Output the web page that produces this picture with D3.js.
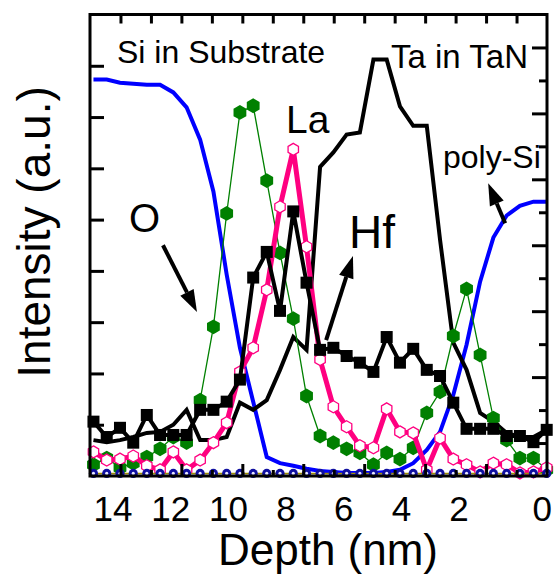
<!DOCTYPE html>
<html>
<head>
<meta charset="utf-8">
<script src="https://cdn.jsdelivr.net/npm/d3@7"></script>
<style>
  html, body { margin: 0; padding: 0; background: #fff; }
  svg { display: block; }
  text { font-family: "Liberation Sans", Arial, Helvetica, sans-serif; fill: #000; }
</style>
</head>
<body>
<svg id="chart" width="556" height="576"></svg>
<script>
// ---- data ----
const depth = [14.68, 14.22, 13.76, 13.30, 12.83, 12.37, 11.91, 11.45, 10.98, 10.52,
               10.06, 9.60, 9.14, 8.67, 8.21, 7.75, 7.29, 6.82, 6.36, 5.90,
               5.44, 4.97, 4.51, 4.05, 3.59, 3.12, 2.66, 2.20, 1.74, 1.27,
               0.81, 0.35, -0.11, -0.58, -1.04];
const siSubstrate = [7.73, 7.73, 7.67, 7.65, 7.63, 7.63, 7.48, 7.19, 6.56, 5.55,
                     3.93, 2.50, 1.45, 0.37, 0.25, 0.20, 0.14, 0.10, 0.08, 0.06,
                     0.06, 0.06, 0.08, 0.12, 0.25, 0.51, 0.86, 1.58, 2.56, 3.79,
                     4.65, 5.08, 5.27, 5.35, 5.35];
const taTaN = [0.70, 0.66, 0.70, 0.76, 0.84, 0.86, 1.00, 1.29, 0.70, 0.70,
               0.76, 1.43, 1.29, 1.48, 2.07, 2.71, 2.46, 6.03, 6.31, 6.66,
               6.70, 8.12, 8.12, 7.21, 6.83, 6.83, 4.61, 2.60, 2.07, 1.23,
               1.06, 0.84, 0.76, 0.76, 0.90];
const hf = [1.06, 0.76, 0.94, 0.65, 1.19, 0.80, 0.80, 0.80, 1.29, 1.29,
            1.45, 1.88, 3.87, 4.37, 3.22, 5.16, 3.77, 2.46, 2.50, 2.34,
            2.21, 2.03, 2.71, 2.21, 2.48, 2.07, 1.95, 1.43, 0.92, 0.92,
            0.92, 0.78, 0.78, 0.66, 0.90];
const la = [0.47, 0.31, 0.33, 0.39, 0.20, 0.12, 0.47, 0.12, 0.31, 0.65,
            1.04, 2.03, 2.50, 3.63, 5.25, 6.37, 4.47, 2.27, 1.35, 0.96,
            0.59, 0.55, 1.31, 0.86, 0.84, 0.12, 0.74, 0.33, 0.22, 0.08,
            0.25, 0.22, 0.06, 0.08, 0.16];
const oxygen = [0.22, 0.35, 0.16, 0.25, 0.37, 0.53, 0.76, 0.65, 1.48, 2.91,
                5.12, 7.09, 7.22, 5.76, 4.35, 3.07, 1.56, 0.78, 0.65, 0.53,
                0.45, 0.22, 0.45, 0.33, 0.55, 1.23, 1.64, 2.73, 3.65, 2.36,
                1.13, 0.70, 0.35, 0.35, 0.12];
const baseSeries = [0.05, 0.05, 0.05, 0.05, 0.05, 0.05, 0.05, 0.05, 0.05, 0.05,
                    0.05, 0.05, 0.05, 0.05, 0.05, 0.05, 0.05, 0.05, 0.05, 0.05,
                    0.05, 0.05, 0.05, 0.05, 0.05, 0.05, 0.05, 0.05, 0.05, 0.05,
                    0.05, 0.05, 0.05, 0.05, 0.05];
const xTickLabels = [14, 12, 10, 8, 6, 4, 2, 0];
const yLeftTicks = [1, 2, 3, 4, 5, 6, 7, 8];
// annotation arrows in data coordinates: [fromDepth, fromI, toDepth, toI]
const arrowO = [12.27, 4.50, 11.09, 3.20];
const arrowHf = [6.61, 2.65, 5.68, 4.29];
const arrowPoly = [0.40, 4.93, 0.99, 5.71];

// ---- layout ----
const L = 90, R = 547, T = 14.5, B = 476;
const svg = d3.select("#chart");
const x = d3.scaleLinear().domain([14.80, -1.05]).range([L, R]);
const y = d3.scaleLinear().domain([0, 9]).range([B, T]);
// frame tick divisions (15 equal divisions along the x frame, 14 on the right side)
const frameX = d3.scaleLinear().domain([0, 15]).range([L, R]);
const frameYR = d3.scaleLinear().domain([0, 14]).range([B, T]);

const rows = depth.map((d, i) => ({d, si: siSubstrate[i], ta: taTaN[i], hf: hf[i], la: la[i], o: oxygen[i], b: baseSeries[i]}));

function hexPath(r) {
  const pts = d3.range(6).map(k => {
    const a = (Math.PI / 3) * k - Math.PI / 2;
    return [r * Math.cos(a), r * Math.sin(a)];
  });
  return "M" + pts.map(p => p.join(",")).join("L") + "Z";
}

const line = key => d3.line().x(r => x(r.d)).y(r => y(r[key]));

// Si in substrate / poly-Si (blue)
svg.append("path").datum(rows).attr("d", line("si"))
  .attr("fill", "none").attr("stroke", "#0000ff").attr("stroke-width", 4);
// Ta (black)
svg.append("path").datum(rows).attr("d", line("ta"))
  .attr("fill", "none").attr("stroke", "#000").attr("stroke-width", 4).attr("stroke-linejoin", "miter");
// O (green)
svg.append("path").datum(rows).attr("d", line("o"))
  .attr("fill", "none").attr("stroke", "#008000").attr("stroke-width", 1.3);
svg.append("g").selectAll("path").data(rows).join("path")
  .attr("d", hexPath(7.4))
  .attr("transform", r => `translate(${x(r.d)},${y(r.o)})`)
  .attr("fill", "#008000");
// La (pink)
svg.append("path").datum(rows).attr("d", line("la"))
  .attr("fill", "none").attr("stroke", "#ff0080").attr("stroke-width", 5);
svg.append("g").selectAll("path").data(rows).join("path")
  .attr("d", hexPath(6))
  .attr("transform", r => `translate(${x(r.d)},${y(r.la)})`)
  .attr("fill", "#fff").attr("stroke", "#ff0080").attr("stroke-width", 1.3);
// Hf (black squares)
svg.append("path").datum(rows).attr("d", line("hf"))
  .attr("fill", "none").attr("stroke", "#000").attr("stroke-width", 4);
svg.append("g").selectAll("rect").data(rows).join("rect")
  .attr("x", r => x(r.d) - 6).attr("y", r => y(r.hf) - 6)
  .attr("width", 12).attr("height", 12).attr("fill", "#000");
// baseline series
svg.append("path").datum(rows).attr("d", line("b"))
  .attr("fill", "none").attr("stroke", "#a09000").attr("stroke-width", 1.5);
const bg = svg.append("g");
bg.selectAll("circle.o").data(rows).join("circle").attr("class", "o")
  .attr("cx", r => x(r.d)).attr("cy", r => y(r.b)).attr("r", 4.6).attr("fill", "#1010a0");
bg.selectAll("circle.i").data(rows).join("circle").attr("class", "i")
  .attr("cx", r => x(r.d)).attr("cy", r => y(r.b)).attr("r", 1.6).attr("fill", "#e8e8ff");

// ---- frame & ticks ----
function styleAxis(g) {
  g.select(".domain").remove();
  g.selectAll(".tick line").attr("stroke", "#000").attr("stroke-width", 3);
  g.selectAll(".tick text").remove();
}
const oddK = d3.range(1, 15, 2), evenK = d3.range(2, 15, 2);
svg.append("g").attr("transform", `translate(0,${B})`)
  .call(d3.axisBottom(frameX).tickValues(oddK).tickSize(-12).tickFormat("")).call(styleAxis);
svg.append("g").attr("transform", `translate(0,${B})`)
  .call(d3.axisBottom(frameX).tickValues(evenK).tickSize(-6).tickFormat("")).call(styleAxis);
svg.append("g").attr("transform", `translate(0,${T})`)
  .call(d3.axisTop(frameX).tickValues(d3.range(1, 15)).tickSize(-9).tickFormat("")).call(styleAxis);
svg.append("g").attr("transform", `translate(${L},0)`)
  .call(d3.axisLeft(y).tickValues(yLeftTicks).tickSize(-14).tickFormat("")).call(styleAxis);
svg.append("g").attr("transform", `translate(${R},0)`)
  .call(d3.axisRight(frameYR).tickValues(d3.range(1, 14, 2)).tickSize(-15).tickFormat("")).call(styleAxis);
svg.append("g").attr("transform", `translate(${R},0)`)
  .call(d3.axisRight(frameYR).tickValues(d3.range(2, 14, 2)).tickSize(-8).tickFormat("")).call(styleAxis);

svg.append("rect").attr("x", L).attr("y", T).attr("width", R - L).attr("height", B - T)
  .attr("fill", "none").attr("stroke", "#000").attr("stroke-width", 3);

// tick labels (the last label sits flush with the right frame)
svg.append("g").selectAll("text").data(xTickLabels).join("text")
  .attr("x", (v, i) => i === xTickLabels.length - 1 ? R + 5 : x(v))
  .attr("y", 521)
  .attr("text-anchor", (v, i) => i === xTickLabels.length - 1 ? "end" : "middle")
  .attr("font-size", 35).text(v => v);

// axis titles
svg.append("text").attr("x", 328).attr("y", 565).attr("text-anchor", "middle")
  .attr("font-size", 44).text("Depth (nm)");
svg.append("text").attr("transform", "translate(50,232) rotate(-90)").attr("text-anchor", "middle")
  .attr("font-size", 46).text("Intensity (a.u.)");

// annotations
const ann = [
  {t: "Si in Substrate", x: 117, y: 63, s: 32},
  {t: "Ta in TaN", x: 391, y: 68, s: 33},
  {t: "La", x: 286, y: 133, s: 39},
  {t: "Hf", x: 349, y: 248, s: 46},
  {t: "O", x: 129, y: 232, s: 40},
  {t: "poly-Si", x: 443, y: 168, s: 32}
];
svg.append("g").selectAll("text").data(ann).join("text")
  .attr("x", a => a.x).attr("y", a => a.y).attr("font-size", a => a.s).text(a => a.t);

function arrow(a) {
  const x1 = x(a[0]), y1 = y(a[1]), x2 = x(a[2]), y2 = y(a[3]);
  const ang = Math.atan2(y2 - y1, x2 - x1);
  const hl = 22, hw = 7.5;
  const bx = x2 - hl * Math.cos(ang), by = y2 - hl * Math.sin(ang);
  svg.append("line").attr("x1", x1).attr("y1", y1).attr("x2", bx).attr("y2", by)
    .attr("stroke", "#000").attr("stroke-width", 4);
  const px = -Math.sin(ang), py = Math.cos(ang);
  svg.append("path")
    .attr("d", `M${x2},${y2}L${bx + hw * px},${by + hw * py}L${bx - hw * px},${by - hw * py}Z`)
    .attr("fill", "#000");
}
[arrowO, arrowHf, arrowPoly].forEach(arrow);
</script>
</body>
</html>
